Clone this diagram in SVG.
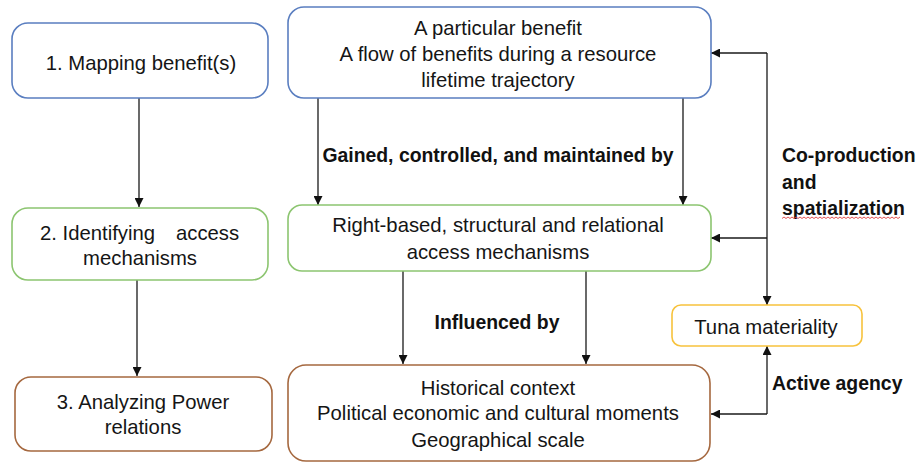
<svg xmlns="http://www.w3.org/2000/svg" width="917" height="462" viewBox="0 0 917 462">
<style>
.box{fill:#fff;stroke-width:1.6}
.blue{stroke:#5A7EC0}
.green{stroke:#8CC570}
.brown{stroke:#A5683F}
.yellow{stroke:#F7C23C}
.t{font-family:"Liberation Sans",Arial,sans-serif;font-size:20.3px;fill:#151515;text-anchor:middle}
.b{font-family:"Liberation Sans",Arial,sans-serif;font-size:19.4px;font-weight:bold;fill:#111}
.c{fill:none;stroke:#1a1a1a;stroke-width:1.3}
</style>
<defs>
<marker id="ah" viewBox="0 0 10 10" refX="10" refY="5" markerWidth="9" markerHeight="9" markerUnits="userSpaceOnUse" orient="auto">
<path d="M0,0 L10,5 L0,10 Z" fill="#111"/>
</marker>
</defs>
<rect width="917" height="462" fill="#fff"/>
<g id="connectors">
<line class="c" x1="139" y1="98" x2="139" y2="207" marker-end="url(#ah)"/>
<line class="c" x1="137" y1="280" x2="137" y2="376" marker-end="url(#ah)"/>
<line class="c" x1="318" y1="98" x2="318" y2="205" marker-end="url(#ah)"/>
<line class="c" x1="683" y1="98" x2="683" y2="205" marker-end="url(#ah)"/>
<line class="c" x1="403" y1="271" x2="403" y2="364" marker-end="url(#ah)"/>
<line class="c" x1="586" y1="271" x2="586" y2="364" marker-end="url(#ah)"/>
<polyline class="c" points="767,53 711,53" marker-end="url(#ah)"/>
<line class="c" x1="767" y1="238" x2="711" y2="238" marker-end="url(#ah)"/>
<line class="c" x1="767" y1="53" x2="767" y2="305" marker-end="url(#ah)"/>
<line class="c" x1="767" y1="414" x2="767" y2="346" marker-end="url(#ah)"/>
<line class="c" x1="767" y1="414" x2="711" y2="414" marker-end="url(#ah)"/>
<text class="b" x="498" y="162" text-anchor="middle">Gained, controlled, and maintained by</text>
<text class="b" x="497" y="329" text-anchor="middle">Influenced by</text>
<text class="b" x="782" y="162">Co-production</text>
<text class="b" x="782" y="189">and</text>
<text class="b" x="782" y="215">spatialization</text>
<path d="M782,218.5 l2,-1.5 l2,1.5 l2,-1.5 l2,1.5 l2,-1.5 l2,1.5 l2,-1.5 l2,1.5 l2,-1.5 l2,1.5 l2,-1.5 l2,1.5 l2,-1.5 l2,1.5 l2,-1.5 l2,1.5 l2,-1.5 l2,1.5 l2,-1.5 l2,1.5 l2,-1.5 l2,1.5 l2,-1.5 l2,1.5 l2,-1.5 l2,1.5 l2,-1.5 l2,1.5 l2,-1.5 l2,1.5 l2,-1.5 l2,1.5 l2,-1.5 l2,1.5 l2,-1.5 l2,1.5 l2,-1.5 l2,1.5 l2,-1.5 l2,1.5 l2,-1.5 l2,1.5 l2,-1.5 l2,1.5 l2,-1.5 l2,1.5 l2,-1.5 l2,1.5 l2,-1.5 l2,1.5 l2,-1.5 l2,1.5 l2,-1.5 l2,1.5 l2,-1.5 l2,1.5 l2,-1.5 l2,1.5 l2,-1.5" fill="none" stroke="#E04040" stroke-width="0.9"/>
<text class="b" x="772" y="390">Active agency</text>
</g>
<g id="step1">
<rect class="box blue" x="12" y="23" width="256" height="75" rx="16"/>
<text class="t" x="141" y="70">1. Mapping benefit(s)</text>
</g>
<g id="step2">
<rect class="box green" x="12" y="208" width="256" height="72" rx="16"/>
<text class="t" style="text-anchor:start"><tspan x="40" y="240">2. Identifying</tspan><tspan x="176" y="240">access</tspan></text>
<text class="t" x="140" y="265">mechanisms</text>
</g>
<g id="step3">
<rect class="box brown" x="15" y="377" width="257" height="74" rx="16"/>
<text class="t" x="143" y="409">3. Analyzing Power</text>
<text class="t" x="143" y="434">relations</text>
</g>
<g id="benefit">
<rect class="box blue" x="288" y="7" width="423" height="91" rx="16"/>
<text class="t" x="498" y="35">A particular benefit</text>
<text class="t" x="498" y="61">A flow of benefits during a resource</text>
<text class="t" x="498" y="87">lifetime trajectory</text>
</g>
<g id="access">
<rect class="box green" x="288" y="205" width="423" height="66" rx="14"/>
<text class="t" x="498" y="232">Right-based, structural and relational</text>
<text class="t" x="498" y="259">access mechanisms</text>
</g>
<g id="context">
<rect class="box brown" x="288" y="365" width="422" height="96" rx="18"/>
<text class="t" x="498" y="395">Historical context</text>
<text class="t" x="498" y="420">Political economic and cultural moments</text>
<text class="t" x="498" y="447">Geographical scale</text>
</g>
<g id="tuna">
<rect class="box yellow" x="672" y="305" width="190" height="41" rx="9"/>
<text class="t" x="766" y="334">Tuna materiality</text>
</g>
</svg>
